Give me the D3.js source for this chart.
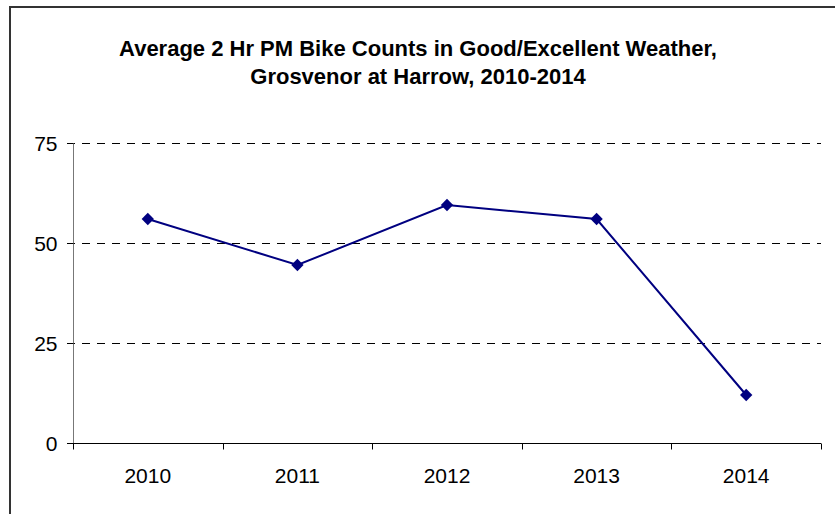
<!DOCTYPE html>
<html>
<head>
<meta charset="utf-8">
<script src="https://cdn.jsdelivr.net/npm/d3@7"></script>
<style>
  body { margin: 0; background: #fff; }
  svg { display: block; font-family: "Liberation Sans", Arial, sans-serif; }
</style>
</head>
<body>
<div id="chart"></div>
<script>
// chart data
const years = ['2010', '2011', '2012', '2013', '2014'];
const bikeCounts = [56, 44.5, 59.5, 56, 12];
const yTicks = [0, 25, 50, 75];
const titleLines = [
  'Average 2 Hr PM Bike Counts in Good/Excellent Weather,',
  'Grosvenor at Harrow, 2010-2014',
];

const width = 835;
const height = 514;
const margin = { top: 143, right: 14, bottom: 71, left: 73 };
const font = '"Liberation Sans", Arial, sans-serif';

const svg = d3.select('#chart').append('svg')
  .attr('width', width)
  .attr('height', height);

// outer frame (runs off the right and bottom edges)
svg.append('rect')
  .attr('x', 10)
  .attr('y', 7)
  .attr('width', width)
  .attr('height', height)
  .attr('fill', 'none')
  .attr('stroke', '#333')
  .attr('stroke-width', 2);

// title
svg.append('text')
  .attr('text-anchor', 'middle')
  .attr('font-weight', 'bold')
  .attr('font-size', 22)
  .selectAll('tspan')
  .data(titleLines)
  .join('tspan')
  .attr('x', 418)
  .attr('y', (d, i) => 56 + i * 28)
  .text(d => d);

const x = d3.scaleBand()
  .domain(years)
  .range([margin.left, width - margin.right]);

const y = d3.scaleLinear()
  .domain([0, 75])
  .range([height - margin.bottom, margin.top]);

// dashed gridlines
svg.append('g')
  .selectAll('line')
  .data(yTicks.filter(d => d > 0))
  .join('line')
  .attr('x1', margin.left - 6)
  .attr('x2', width - margin.right)
  .attr('y1', d => Math.round(y(d)) + 0.5)
  .attr('y2', d => Math.round(y(d)) + 0.5)
  .attr('stroke', '#000')
  .attr('stroke-dasharray', '8,7');

// y axis
const yAxis = svg.append('g')
  .attr('transform', `translate(${margin.left + 0.5},0)`)
  .call(d3.axisLeft(y).tickValues(yTicks).tickSize(6).tickPadding(10));
yAxis.select('.domain').attr('stroke', '#777').attr('d', `M0,${y(75)}V${y(0)}`);
yAxis.selectAll('.tick line').attr('stroke', '#000');
yAxis.selectAll('.tick text')
  .attr('font-size', 21)
  .attr('font-family', font)
  .attr('fill', '#000')
  .attr('dy', '0.35em');

// x axis with ticks between categories
const xAxis = svg.append('g')
  .attr('transform', `translate(0,${Math.round(y(0)) + 0.5})`);
xAxis.append('line')
  .attr('x1', margin.left - 6)
  .attr('x2', width - margin.right)
  .attr('stroke', '#000');
xAxis.selectAll('.sep')
  .data(years.concat(['end']))
  .join('line')
  .attr('class', 'sep')
  .attr('x1', (d, i) => Math.round(margin.left + i * x.step()) + 0.5)
  .attr('x2', (d, i) => Math.round(margin.left + i * x.step()) + 0.5)
  .attr('y1', 0)
  .attr('y2', 6)
  .attr('stroke', '#000');
xAxis.selectAll('.lbl')
  .data(years)
  .join('text')
  .attr('class', 'lbl')
  .attr('x', d => x(d) + x.bandwidth() / 2)
  .attr('y', 39)
  .attr('text-anchor', 'middle')
  .attr('font-size', 21)
  .text(d => d);

// series line
const line = d3.line()
  .x((d, i) => x(years[i]) + x.bandwidth() / 2)
  .y(d => y(d));

svg.append('path')
  .datum(bikeCounts)
  .attr('d', line)
  .attr('fill', 'none')
  .attr('stroke', '#000080')
  .attr('stroke-width', 2);

// diamond markers
svg.append('g')
  .selectAll('path')
  .data(bikeCounts)
  .join('path')
  .attr('transform', (d, i) => `translate(${x(years[i]) + x.bandwidth() / 2},${y(d)}) rotate(45)`)
  .attr('d', d3.symbol().type(d3.symbolSquare).size(76))
  .attr('fill', '#000080');
</script>
</body>
</html>
